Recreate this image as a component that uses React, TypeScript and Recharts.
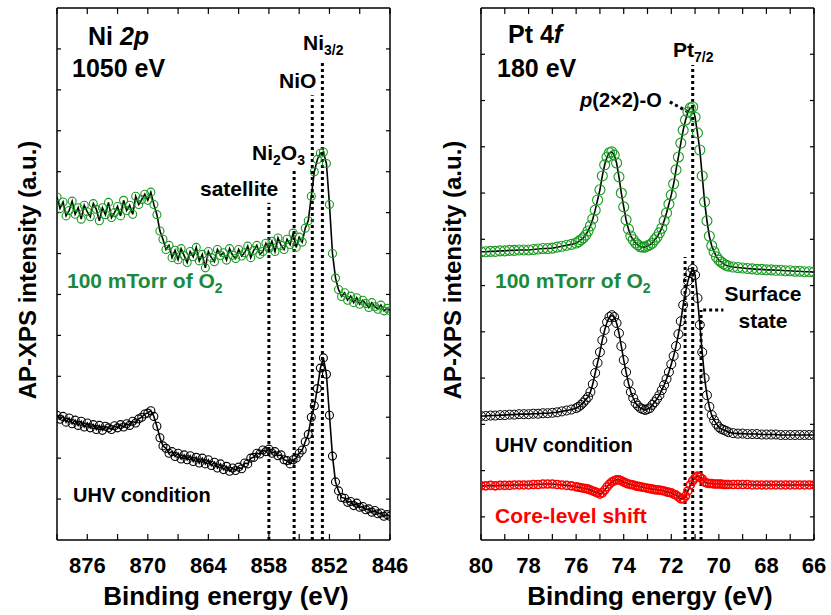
import React from 'react';
import { LineChart, Line, XAxis, YAxis, ReferenceLine } from 'recharts';

const FONT = '"Liberation Sans", Arial, sans-serif';
const GREEN = '#169a1e';
const GREEN_TEXT = '#1a8a3c';
const RED = '#ff0000';

// ---- Ni 2p panel (binding energy, eV) ----
const NI_ENERGY = [
    879.0, 878.7, 878.4, 878.1, 877.8, 877.5, 877.2, 876.9, 876.6, 876.3,
    876.0, 875.7, 875.4, 875.1, 874.8, 874.5, 874.2, 873.9, 873.6, 873.3,
    873.0, 872.7, 872.4, 872.1, 871.8, 871.5, 871.2, 870.9, 870.6, 870.3,
    870.0, 869.7, 869.4, 869.1, 868.8, 868.5, 868.2, 867.9, 867.6, 867.3,
    867.0, 866.7, 866.4, 866.1, 865.8, 865.5, 865.2, 864.9, 864.6, 864.3,
    864.0, 863.7, 863.4, 863.1, 862.8, 862.5, 862.2, 861.9, 861.6, 861.3,
    861.0, 860.7, 860.4, 860.1, 859.8, 859.5, 859.2, 858.9, 858.6, 858.3,
    858.0, 857.7, 857.4, 857.1, 856.8, 856.5, 856.2, 855.9, 855.6, 855.3,
    855.0, 854.7, 854.4, 854.1, 853.8, 853.5, 853.2, 852.9, 852.6, 852.3,
    852.0, 851.7, 851.4, 851.1, 850.8, 850.5, 850.2, 849.9, 849.6, 849.3,
    849.0, 848.7, 848.4, 848.1, 847.8, 847.5, 847.2, 846.9, 846.6, 846.3,
    846.0,
];

const NI_O2 = [
    8.38, 8.10, 8.26, 7.92, 8.05, 8.28, 7.96, 8.12, 7.84, 8.18,
    8.02, 7.90, 8.22, 8.08, 7.80, 8.12, 7.95, 8.25, 7.88, 8.00,
    8.15, 7.92, 8.30, 8.05, 8.18, 7.96, 8.40, 8.20, 8.32, 8.45,
    8.30, 8.50, 8.20, 7.95, 7.55, 7.35, 7.10, 7.20, 6.90, 7.08,
    6.85, 7.12, 6.95, 6.78, 7.05, 6.92, 7.15, 6.82, 6.98, 6.65,
    7.05, 6.90, 6.80, 7.10, 6.95, 7.02, 6.84, 7.12, 6.96, 6.88,
    7.10, 6.94, 7.02, 7.18, 6.90, 7.08, 7.20, 6.98, 7.05, 7.25,
    7.12, 7.30, 7.05, 7.38, 7.20, 7.10, 7.35, 7.22, 7.50, 7.15,
    7.40, 7.28, 7.62, 7.80, 8.40, 9.00, 9.30, 9.45, 9.48, 9.20,
    8.20, 7.00, 6.40, 6.12, 5.95, 6.04, 5.86, 5.96, 5.80, 5.92,
    5.76, 5.86, 5.78, 5.68, 5.80, 5.70, 5.64, 5.74, 5.60, 5.66,
    5.60,
];

const NI_UHV = [
    3.05, 2.95, 3.02, 2.88, 2.98, 2.84, 2.93, 2.80, 2.90, 2.76,
    2.86, 2.74, 2.82, 2.70, 2.80, 2.68, 2.78, 2.74, 2.70, 2.79,
    2.74, 2.82, 2.76, 2.84, 2.80, 2.90, 2.86, 2.96, 3.00, 3.08,
    3.10, 3.16, 3.02, 2.78, 2.50, 2.30, 2.24, 2.12, 2.16, 2.04,
    2.12, 1.98, 2.08, 1.96, 2.06, 1.92, 2.02, 1.88, 2.00, 1.86,
    1.96, 1.82, 1.90, 1.76, 1.86, 1.72, 1.80, 1.68, 1.76, 1.70,
    1.78, 1.74, 1.88, 1.86, 2.00, 2.02, 2.12, 2.10, 2.20, 2.16,
    2.22, 2.12, 2.16, 2.06, 2.08, 1.96, 1.94, 1.86, 1.96, 2.00,
    2.12, 2.20, 2.40, 2.58, 3.00, 3.28, 3.70, 4.20, 4.45, 4.05,
    3.05, 2.05, 1.42, 1.20, 1.04, 1.02, 0.92, 0.94, 0.84, 0.90,
    0.80, 0.82, 0.74, 0.76, 0.68, 0.72, 0.64, 0.66, 0.58, 0.62,
    0.58,
];

const NI_TICKS = [879, 876, 873, 870, 867, 864, 861, 858, 855, 852, 849, 846];
const NI_LABELED = [876, 870, 864, 858, 852, 846];
// marker lines: satellite, Ni2O3, NiO, Ni3/2 (energy, top of the dotted line)
const NI_MARK_E = [858.0, 855.5, 853.7, 852.7];
const NI_MARK_TOP = [8.24, 9.04, 10.87, 11.68];

// ---- Pt 4f panel ----
const PT_ENERGY = [
    80.0, 79.8, 79.6, 79.4, 79.2, 79.0, 78.8, 78.6, 78.4, 78.2,
    78.0, 77.8, 77.6, 77.4, 77.2, 77.0, 76.8, 76.6, 76.4, 76.2,
    76.0, 75.9, 75.8, 75.7, 75.6, 75.5, 75.4, 75.3, 75.2, 75.1,
    75.0, 74.9, 74.8, 74.7, 74.6, 74.5, 74.4, 74.3, 74.2, 74.1,
    74.0, 73.9, 73.8, 73.7, 73.6, 73.5, 73.4, 73.3, 73.2, 73.1,
    73.0, 72.9, 72.8, 72.7, 72.6, 72.5, 72.4, 72.3, 72.2, 72.1,
    72.0, 71.9, 71.8, 71.7, 71.6, 71.5, 71.4, 71.3, 71.2, 71.1,
    71.0, 70.9, 70.8, 70.7, 70.6, 70.5, 70.4, 70.3, 70.2, 70.1,
    70.0, 69.9, 69.8, 69.7, 69.6,
    69.4, 69.2, 69.0, 68.8, 68.6, 68.4, 68.2, 68.0, 67.8, 67.6,
    67.4, 67.2, 67.0, 66.8, 66.6, 66.4, 66.2, 66.0,
];

const PT_O2 = [
    6.23, 6.23, 6.24, 6.24, 6.25, 6.25, 6.26, 6.26, 6.27, 6.27,
    6.27, 6.28, 6.29, 6.30, 6.30, 6.31, 6.33, 6.35, 6.37, 6.39,
    6.42, 6.45, 6.49, 6.53, 6.59, 6.68, 6.79, 6.94, 7.13, 7.35,
    7.57, 7.87, 8.11, 8.28, 8.37, 8.39, 8.32, 8.15, 7.85, 7.50,
    7.20, 6.92, 6.72, 6.57, 6.49, 6.42, 6.38, 6.34, 6.33, 6.33,
    6.36, 6.38, 6.42, 6.49, 6.55, 6.64, 6.74, 6.90, 7.07, 7.26,
    7.46, 7.70, 8.00, 8.28, 8.58, 8.86, 9.08, 9.25, 9.34, 9.36,
    9.14, 8.80, 8.43, 7.87, 7.31, 6.90, 6.57, 6.36, 6.23, 6.12,
    6.05, 6.01, 5.97, 5.94, 5.92,
    5.90, 5.89, 5.88, 5.87, 5.86, 5.85, 5.85, 5.84, 5.84, 5.83,
    5.83, 5.82, 5.82, 5.81, 5.81, 5.80, 5.80, 5.79,
];

const PT_UHV = [
    2.68, 2.68, 2.69, 2.69, 2.70, 2.70, 2.71, 2.71, 2.72, 2.72,
    2.72, 2.73, 2.73, 2.74, 2.74, 2.75, 2.76, 2.78, 2.80, 2.82,
    2.85, 2.88, 2.92, 2.97, 3.03, 3.09, 3.20, 3.37, 3.61, 3.83,
    4.06, 4.32, 4.54, 4.71, 4.82, 4.86, 4.82, 4.69, 4.47, 4.19,
    3.89, 3.63, 3.39, 3.20, 3.07, 2.96, 2.90, 2.85, 2.83, 2.81,
    2.83, 2.85, 2.92, 2.98, 3.05, 3.13, 3.24, 3.35, 3.48, 3.63,
    3.80, 3.98, 4.19, 4.45, 4.73, 5.08, 5.36, 5.60, 5.77, 5.86,
    5.73, 5.23, 4.65, 4.06, 3.50, 3.13, 2.88, 2.70, 2.59, 2.51,
    2.44, 2.40, 2.38, 2.36, 2.33,
    2.31, 2.30, 2.30, 2.29, 2.29, 2.29, 2.28, 2.28, 2.28, 2.28,
    2.27, 2.27, 2.27, 2.27, 2.27, 2.27, 2.27, 2.27,
];

const PT_SHIFT = [
    1.17, 1.17, 1.18, 1.17, 1.18, 1.18, 1.18, 1.19, 1.19, 1.19,
    1.19, 1.20, 1.20, 1.21, 1.21, 1.21, 1.20, 1.19, 1.18, 1.17,
    1.15, 1.14, 1.13, 1.12, 1.11, 1.10, 1.08, 1.06, 1.04, 1.02,
    0.99, 1.02, 1.08, 1.15, 1.21, 1.25, 1.28, 1.30, 1.30, 1.28,
    1.25, 1.23, 1.21, 1.20, 1.19, 1.17, 1.16, 1.15, 1.14, 1.13,
    1.12, 1.11, 1.10, 1.09, 1.08, 1.08, 1.07, 1.06, 1.04, 1.03,
    1.02, 0.99, 0.97, 0.93, 0.89, 0.89, 0.95, 1.06, 1.19, 1.28,
    1.34, 1.38, 1.36, 1.32, 1.25, 1.23, 1.22, 1.22, 1.21, 1.21,
    1.21, 1.21, 1.20, 1.20, 1.20,
    1.20, 1.20, 1.20, 1.20, 1.19, 1.19, 1.19, 1.19, 1.19, 1.19,
    1.19, 1.19, 1.19, 1.19, 1.19, 1.19, 1.19, 1.19,
];

const PT_TICKS = [80, 79, 78, 77, 76, 75, 74, 73, 72, 71, 70, 69, 68, 67, 66];
// dotted lines: low-BE side, Pt7/2, surface state
const PT_MARK_E = [71.42, 71.1, 70.75];
const PT_MARK_TOP = [6.12, 10.27, 4.97];

const niData = NI_ENERGY.map((e, i) => ({ e, o2: NI_O2[i], uhv: NI_UHV[i] }));
const ptData = PT_ENERGY.map((e, i) => ({ e, o2: PT_O2[i], uhv: PT_UHV[i], shift: PT_SHIFT[i] }));

const tickStyle = { fontSize: 22, fontWeight: 'bold', fill: '#000', fontFamily: FONT };
const dotted = { stroke: '#000', strokeWidth: 3, strokeDasharray: '3 3' };

// all four sides of the frame carry inward ticks; the top/right copies have no labels
function axes(domainX: number[], ticksX: number[], labelX: (v: number) => string, domainY: number[], ticksY: number[]) {
    const axisLine = { stroke: '#000', strokeWidth: 1.5 };
    const tickLine = { stroke: '#000', strokeWidth: 1.2 };
    return [
        <XAxis key="xb" dataKey="e" type="number" domain={domainX} reversed ticks={ticksX} interval={0}
            allowDataOverflow height={50} axisLine={axisLine} tickLine={tickLine} tickSize={-6} tickMargin={23}
            tick={tickStyle} tickFormatter={labelX} />,
        <XAxis key="xt" xAxisId="top" dataKey="e" orientation="top" type="number" domain={domainX} reversed
            ticks={ticksX} interval={0} allowDataOverflow height={1} axisLine={axisLine} tickLine={tickLine}
            tickSize={-6} tickFormatter={() => ''} />,
        <YAxis key="yl" type="number" domain={domainY} ticks={ticksY} interval={0} allowDataOverflow width={1}
            axisLine={axisLine} tickLine={tickLine} tickSize={-4} tickFormatter={() => ''} />,
        <YAxis key="yr" yAxisId="right" orientation="right" type="number" domain={domainY} ticks={ticksY}
            interval={0} allowDataOverflow width={1} axisLine={axisLine} tickLine={tickLine} tickSize={-4}
            tickFormatter={() => ''} />,
    ];
}

// open-circle markers (bound to the mirrored top/right axes) + black line drawn over them
function series(key: string, color: string, r: number, sw: number) {
    return [
        <Line key={key + 'm'} dataKey={key} xAxisId="top" yAxisId="right" type="linear" stroke="none"
            isAnimationActive={false} dot={{ r, stroke: color, strokeWidth: sw, fill: 'none' }} activeDot={false} />,
        <Line key={key + 'l'} dataKey={key} type="linear" stroke="#000" strokeWidth={1.6}
            isAnimationActive={false} dot={false} activeDot={false} />,
    ];
}

function Sub({ children }: { children: React.ReactNode }) {
    return <tspan fontSize={14} dy={5}>{children}</tspan>;
}

export default function App() {
    return (
        <div style={{ position: 'absolute', left: 0, top: 0, width: 831, height: 615, background: '#fff', fontFamily: FONT }}>
            <div style={{ position: 'absolute', left: 0, top: 0 }}>
                <LineChart width={415} height={615} data={niData} margin={{ top: 7, right: 24, bottom: 25, left: 56 }}>
                    {axes([846, 879], NI_TICKS, (v) => (NI_LABELED.includes(v) ? String(v) : ''), [0, 13],
                        [1, 2, 3, 4, 5, 6, 7, 8, 9, 10, 11, 12])}
                    {NI_MARK_E.map((e, i) => (
                        <ReferenceLine key={'n' + i} segment={[{ x: e, y: 0 }, { x: e, y: NI_MARK_TOP[i] }]} {...dotted} />
                    ))}
                    {series('o2', GREEN, 4, 1.1)}
                    {series('uhv', '#000', 4, 1.1)}
                </LineChart>
            </div>
            <div style={{ position: 'absolute', left: 415, top: 0 }}>
                <LineChart width={416} height={615} data={ptData} margin={{ top: 7, right: 16, bottom: 25, left: 65 }}>
                    {axes([66, 80], PT_TICKS, (v) => (v % 2 === 0 ? String(v) : ''), [0, 11.5],
                        [0.5, 1.5, 2.5, 3.5, 4.5, 5.5, 6.5, 7.5, 8.5, 9.5, 10.5])}
                    {PT_MARK_E.map((e, i) => (
                        <ReferenceLine key={'p' + i} segment={[{ x: e, y: 0 }, { x: e, y: PT_MARK_TOP[i] }]} {...dotted} />
                    ))}
                    <ReferenceLine segment={[{ x: 72.06, y: 9.47 }, { x: 71.21, y: 9.23 }]} {...dotted} />
                    <ReferenceLine segment={[{ x: 70.66, y: 4.97 }, { x: 69.81, y: 4.97 }]} {...dotted} />
                    {series('o2', GREEN, 5, 1.1)}
                    {series('uhv', '#000', 4.5, 1)}
                    {series('shift', RED, 4, 1.6)}
                </LineChart>
            </div>
            <svg width={831} height={615} style={{ position: 'absolute', left: 0, top: 0, pointerEvents: 'none' }}
                fontFamily={FONT} fontWeight="bold">
                {/* left panel */}
                <text x={88} y={45} fontSize={25}>Ni <tspan fontStyle="italic">2p</tspan></text>
                <text x={72} y={77} fontSize={25}>1050 eV</text>
                <text x={303} y={50} fontSize={21}>Ni<Sub>3/2</Sub></text>
                <text x={279} y={88} fontSize={21}>NiO</text>
                <text x={252} y={160} fontSize={21}>Ni<Sub>2</Sub><tspan dy={-5}>O</tspan><Sub>3</Sub></text>
                <text x={200} y={196} fontSize={21}>satellite</text>
                <text x={67} y={288} fontSize={21} fill={GREEN_TEXT}>100 mTorr of O<Sub>2</Sub></text>
                <text x={73} y={502} fontSize={20}>UHV condition</text>
                <text x={27} y={270} fontSize={24} textAnchor="middle" dominantBaseline="central"
                    transform="rotate(-90 27 270)">AP-XPS intensity (a.u.)</text>
                <text x={226} y={605} fontSize={26} textAnchor="middle">Binding energy (eV)</text>
                {/* right panel */}
                <text x={508} y={43} fontSize={25}>Pt 4<tspan fontStyle="italic">f</tspan></text>
                <text x={497} y={77} fontSize={25}>180 eV</text>
                <text x={673} y={57} fontSize={21}>Pt<Sub>7/2</Sub></text>
                <text x={580} y={107} fontSize={20}><tspan fontStyle="italic">p</tspan>(2×2)-O</text>
                <text x={495} y={288} fontSize={21} fill={GREEN_TEXT}>100 mTorr of O<Sub>2</Sub></text>
                <text x={763} y={301} fontSize={21} textAnchor="middle">Surface</text>
                <text x={763} y={328} fontSize={21} textAnchor="middle">state</text>
                <text x={495} y={452} fontSize={20}>UHV condition</text>
                <text x={495} y={523} fontSize={21} fill={RED}>Core-level shift</text>
                <text x={452} y={270} fontSize={24} textAnchor="middle" dominantBaseline="central"
                    transform="rotate(-90 452 270)">AP-XPS intensity (a.u.)</text>
                <text x={650} y={605} fontSize={26} textAnchor="middle">Binding energy (eV)</text>
            </svg>
        </div>
    );
}
